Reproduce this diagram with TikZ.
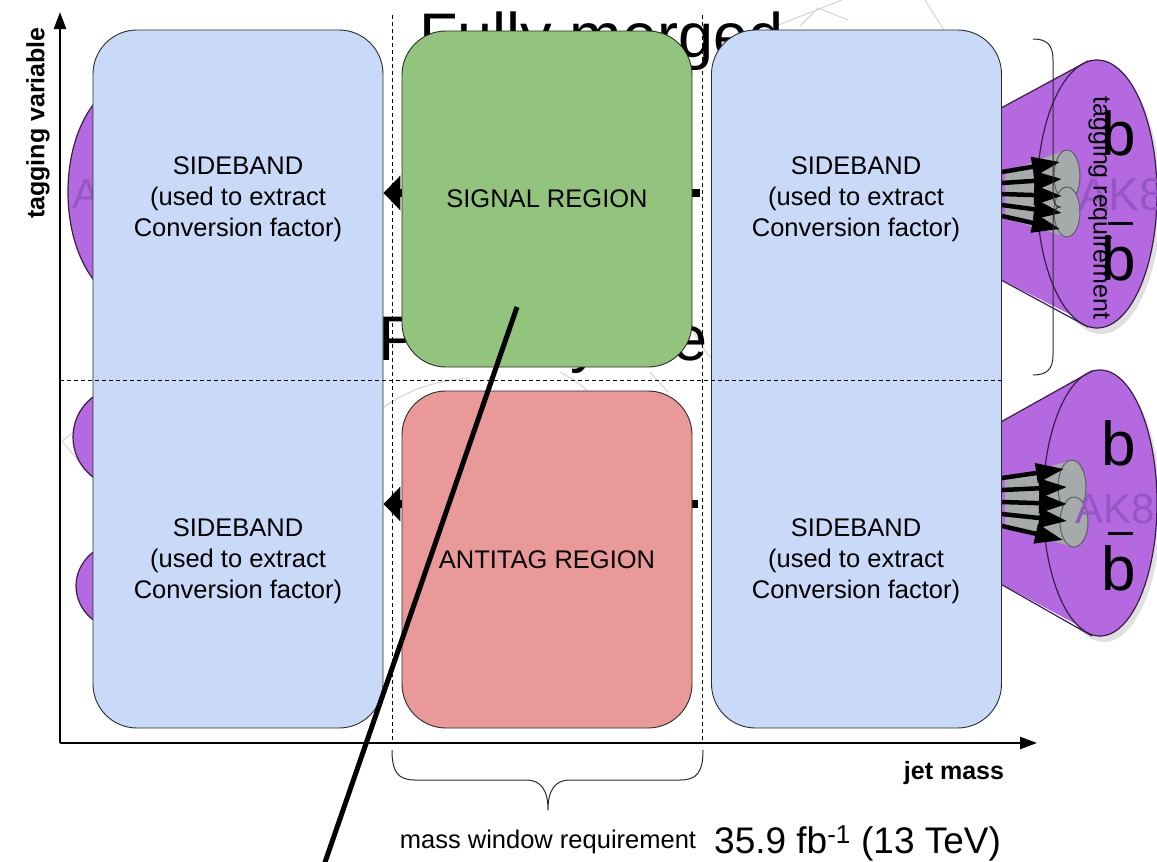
\documentclass[tikz,border=0pt]{standalone}
\usepackage{fontspec}
\setmainfont{Liberation Sans}
\usetikzlibrary{arrows.meta}

\definecolor{sideband}{HTML}{C9DAF8}
\definecolor{signal}{HTML}{93C47D}
\definecolor{antitag}{HTML}{EA9999}
\definecolor{jetpurple}{HTML}{B469E0}
\definecolor{jetedge}{HTML}{3A1F48}
\definecolor{subjet}{HTML}{A6AAAA}
\definecolor{subjetedge}{HTML}{5A5E5E}
\definecolor{aklabel}{HTML}{9558C2}
\definecolor{ghost}{HTML}{D8D8D8}
\definecolor{boxedge}{HTML}{2B2B2B}

\tikzset{
  region/.style={draw=boxedge, line width=0.9pt, rounded corners=44pt, inner sep=0pt, minimum width=290pt},
  bandtext/.style={align=center, inner sep=0pt, font=\fontsize{25.5}{31}\selectfont},
  bigword/.style={anchor=base west, inner sep=0pt, font=\fontsize{63}{70}\selectfont},
  quarktext/.style={anchor=base west, inner sep=0pt, font=\fontsize{62}{70}\selectfont},
  aktext/.style={anchor=base west, inner sep=0pt, text=aklabel},
  jet/.style={draw=jetedge, fill=jetpurple, line width=1.2pt},
  jetline/.style={draw=jetedge, line width=1.2pt},
  jetshadow/.style={fill=black, opacity=0.12},
  sub/.style={draw=subjetedge, fill=subjet, line width=1pt},
  track/.style={line width=4.5pt, -{Triangle[length=28pt,width=19pt]}},
  fatarrow/.style={line width=8pt, -{Triangle[length=17pt,width=34pt]}},
  axis/.style={line width=2.4pt, -{Triangle[length=17pt,width=12pt]}},
  window/.style={line width=0.9pt, dash pattern=on 4pt off 3pt},
  brace/.style={draw=boxedge, line width=1pt},
  ghostline/.style={draw=ghost, line width=1.2pt},
}

\begin{document}
\begin{tikzpicture}[x=1pt,y=-1pt]
\useasboundingbox (0,0) rectangle (1157,862);

% faint outlines lying under everything
\draw[ghostline] (740,40) -- (842,0);
\draw[ghostline] (800,26) -- (818,8) -- (848,20);
\draw[ghostline] (925,0) -- (1002,122);
\draw[ghostline] (62,441) -- (93,418);
\draw[ghostline] (62,441) -- (93,478);
\draw[ghostline] (383,408) .. controls (410,388) and (440,380) .. (470,378);
\draw[ghostline] (560,372) .. controls (585,385) and (600,400) .. (610,425);
\draw[ghostline] (650,372) -- (668,392);
\draw[ghostline] (692,330) .. controls (700,342) and (705,352) .. (711,358);

% large jet-category words
\node[bigword] (fully) at (419,57) {Fully merged};
\node[bigword] (partial) at (378,360) {Partially merged};

% jets peeking out on the left
\fill[jetshadow] (135,198) ellipse [x radius=63, y radius=109];
\draw[jet] (131,192) ellipse [x radius=63, y radius=109];
\draw[jet] (123,437) ellipse [x radius=50, y radius=50];
\draw[jet] (126,586) ellipse [x radius=50, y radius=45];
\node[aktext, font=\fontsize{42}{48}\selectfont] (akleft) at (72,208) {AK8};

% upper jet cone on the right
\fill[jetshadow] (1101,200) ellipse [x radius=60, y radius=134];
\fill[jetpurple] (990,114) -- (1090,60) -- (1097,328) -- (990,274) -- cycle;
\draw[jet] (1097,194) ellipse [x radius=60, y radius=134];
\draw[jetline] (990,114) -- (1088,61) (990,274) -- (1088,327);
\fill[subjet] (1005,172) -- (1066,150) -- (1066,237) -- (1005,218) -- cycle;
\draw[sub] (1067,176) ellipse [x radius=13, y radius=26];
\draw[sub] (1067,212) ellipse [x radius=13, y radius=25];
\draw[track] (1002,172) -- (1060,162);
\draw[track] (1002,183) -- (1062,179);
\draw[track] (1002,194) -- (1062,196);
\draw[track] (1002,205) -- (1062,213);
\draw[track] (1002,216) -- (1060,229);
\node[aktext, font=\fontsize{46}{52}\selectfont] (akup) at (1078,210) {AK8};
\node[quarktext] (bup) at (1101,155) {b};
\node[quarktext] (bbarup) at (1101,280) {\makebox[0pt][l]{\kern7pt\rule[55pt]{25pt}{3pt}}b};

% lower jet cone on the right
\fill[jetshadow] (1104,509) ellipse [x radius=57, y radius=133];
\fill[jetpurple] (990,428) -- (1093,370) -- (1100,637) -- (990,578) -- cycle;
\draw[jet] (1100,503) ellipse [x radius=57, y radius=133];
\draw[jetline] (990,428) -- (1092,371) (990,578) -- (1092,636);
\fill[subjet] (1005,480) -- (1072,460) -- (1074,547) -- (1005,528) -- cycle;
\draw[sub] (1072,487) ellipse [x radius=14, y radius=27];
\draw[sub] (1074,522) ellipse [x radius=14, y radius=25];
\draw[track] (1002,478) -- (1064,469);
\draw[track] (1002,490) -- (1067,487);
\draw[track] (1002,502) -- (1067,504);
\draw[track] (1002,514) -- (1067,521);
\draw[track] (1002,526) -- (1063,540);
\node[aktext, font=\fontsize{42}{48}\selectfont] (akdown) at (1075,523) {AK8};
\node[quarktext] (bdown) at (1101,465) {b};
\node[quarktext] (bbardown) at (1101,590) {\makebox[0pt][l]{\kern7pt\rule[55pt]{25pt}{3pt}}b};

% axes
\coordinate (origin) at (60,743);
\coordinate (ytop) at (60,12);
\coordinate (xend) at (1037,743);
\draw[axis] (origin) -- (ytop);
\draw[axis] (origin) -- (xend);

% regions
\node[region, fill=sideband, minimum height=698pt] (sbL) at (238,379) {};
\node[region, fill=sideband, minimum height=698pt] (sbR) at (856.5,379) {};

% transfer arrows, partly hidden by the central regions
\coordinate (stubU) at (700,193);
\coordinate (stubD) at (698,504);
\draw[fatarrow] (stubU) -- (sbL.east |- stubU);
\draw[fatarrow] (stubD) -- (sbL.east |- stubD);

\node[region, fill=signal, minimum height=336pt] (sig) at (547,199) {};
\node[region, fill=antitag, minimum height=337pt] (anti) at (547,559.5) {};

% mass window and tagging boundaries
\draw[window] (392,15) -- (392,743);
\draw[window] (702,15) -- (702,743);
\draw[window] (origin |- 0,380) -- (sbR.east |- 0,380);

% braces
\draw[brace] (392,750) .. controls (392,772) and (398,780) .. (415,780) -- (526,780)
  .. controls (541,780) and (548,790) .. (548,810)
  .. controls (548,790) and (555,780) .. (570,780) -- (680,780)
  .. controls (697,780) and (703,772) .. (703,750);
\draw[brace] (1033,39) .. controls (1047,39) and (1053,45) .. (1053,60) -- (1053,192)
  .. controls (1053,202) and (1055,207) .. (1060,207)
  .. controls (1055,207) and (1053,212) .. (1053,222) -- (1053,355)
  .. controls (1053,369) and (1047,375) .. (1033,375);

% region labels
\node[bandtext] (sbLtop) at (238,199) {SIDEBAND\\(used to extract\\Conversion factor)};
\node[bandtext] (sbLbot) at (238,561) {SIDEBAND\\(used to extract\\Conversion factor)};
\node[bandtext] (sbRtop) at (856,199) {SIDEBAND\\(used to extract\\Conversion factor)};
\node[bandtext] (sbRbot) at (856,561) {SIDEBAND\\(used to extract\\Conversion factor)};
\node[bandtext] (sigtext) at (sig.center) {SIGNAL REGION};
\node[bandtext] (antitext) at (anti.center) {ANTITAG REGION};

% axis and bracket labels
\node[bandtext, rotate=90, font=\fontsize{25}{31}\selectfont\bfseries] (ylab) at (38,123) {tagging variable};
\node[bandtext, font=\fontsize{25}{31}\selectfont\bfseries] (xlab) at (954,773) {jet mass};
\node[bandtext, font=\fontsize{25}{31}\selectfont, rotate=-90] (tagreq) at (1100,208) {tagging requirement};
\node[bandtext, anchor=base] (masswin) at (548,848) {mass window requirement};
\node[anchor=base west, inner sep=0pt, font=\fontsize{37}{44}\selectfont] (lumi) at (714,853) {35.9 fb\textsuperscript{-1} (13 TeV)};

% long slanted stroke across the plot
\coordinate (slantTop) at (517,307);
\coordinate (slantEnd) at (323,868);
\draw[line width=5pt] (slantTop) -- (slantEnd);
\end{tikzpicture}
\end{document}
